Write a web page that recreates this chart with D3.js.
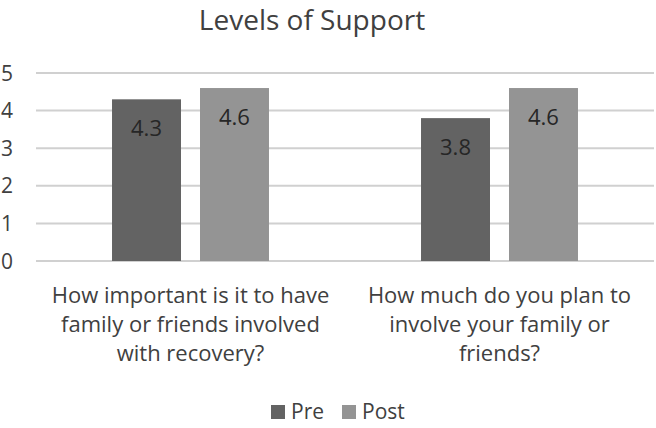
<!DOCTYPE html>
<html>
<head>
<meta charset="utf-8">
<script src="https://cdn.jsdelivr.net/npm/d3@7"></script>
<style>
  body { margin: 0; background: #fff; }
  svg { display: block; font-family: "Open Sans", sans-serif; }
</style>
</head>
<body>
<div id="chart"></div>
<script>
// Levels of Support - grouped bars, pre vs post
const categories = ["importance", "plan"];
const categoryLines = [
    ["How important is it to have", "family or friends involved", "with recovery?"],
    ["How much do you plan to", "involve your family or", "friends?"]
];
const seriesNames = ["Pre", "Post"];
const preValues = [4.3, 3.8];
const postValues = [4.6, 4.6];
const yTicks = [0, 1, 2, 3, 4, 5];

const colors = { Pre: "#636363", Post: "#949494" };
const textColor = "#404040";

const W = 656, H = 428;
const margin = { top: 73, right: 2, bottom: 167, left: 36 };
const width = W - margin.left - margin.right;
const height = H - margin.top - margin.bottom;

const svg = d3.select("#chart")
    .append("svg")
    .attr("width", W)
    .attr("height", H);

// title
svg.append("text")
    .attr("x", 312)
    .attr("y", 30)
    .attr("text-anchor", "middle")
    .attr("fill", textColor)
    .style("font-size", "28px")
    .text("Levels of Support");

const g = svg.append("g")
    .attr("transform", "translate(" + margin.left + "," + margin.top + ")");

const x0 = d3.scaleBand()
    .domain(categories)
    .range([0, width]);

const x1 = d3.scaleBand()
    .domain(seriesNames)
    .range([0, x0.bandwidth()])
    .paddingInner(0.216)
    .paddingOuter(0.864);

const y = d3.scaleLinear()
    .domain([0, 5])
    .range([height, 0]);

// gridlines
g.selectAll(".grid")
    .data(yTicks)
    .enter()
    .append("line")
    .attr("x1", 0)
    .attr("x2", width)
    .attr("y1", d => y(d))
    .attr("y2", d => y(d))
    .attr("stroke", "#d0d0d0")
    .attr("stroke-width", 2);

// y labels
svg.selectAll(".ylab")
    .data(yTicks)
    .enter()
    .append("text")
    .attr("x", 13)
    .attr("y", d => margin.top + y(d))
    .attr("dy", "0.36em")
    .attr("text-anchor", "end")
    .attr("fill", textColor)
    .style("font-size", "21px")
    .text(d => d);

const rows = categories.map((c, i) => ({
    cat: c,
    vals: [{ s: "Pre", v: preValues[i] }, { s: "Post", v: postValues[i] }]
}));

const groups = g.selectAll(".grp")
    .data(rows)
    .enter()
    .append("g")
    .attr("transform", d => "translate(" + x0(d.cat) + ",0)");

groups.selectAll("rect")
    .data(d => d.vals)
    .enter()
    .append("rect")
    .attr("x", d => x1(d.s))
    .attr("width", x1.bandwidth())
    .attr("y", d => y(d.v))
    .attr("height", d => height - y(d.v))
    .attr("fill", d => colors[d.s]);

groups.selectAll(".val")
    .data(d => d.vals)
    .enter()
    .append("text")
    .attr("x", d => x1(d.s) + x1.bandwidth() / 2)
    .attr("y", d => y(d.v) + 37)
    .attr("text-anchor", "middle")
    .attr("fill", "#262626")
    .style("font-size", "22px")
    .text(d => d.v.toFixed(1));

// category labels, wrapped like the original
categories.forEach((c, i) => {
    const t = g.append("text")
        .attr("text-anchor", "middle")
        .attr("fill", textColor)
        .style("font-size", "22px");
    categoryLines[i].forEach((line, j) => {
        t.append("tspan")
            .attr("x", x0(c) + x0.bandwidth() / 2)
            .attr("y", height + 42 + j * 29)
            .text(line);
    });
});

// legend
const legend = svg.append("g");
const legendX = [271, 342];
seriesNames.forEach((s, i) => {
    legend.append("rect")
        .attr("x", legendX[i])
        .attr("y", 405)
        .attr("width", 14)
        .attr("height", 14)
        .attr("fill", colors[s]);
    legend.append("text")
        .attr("x", legendX[i] + 20)
        .attr("y", 419)
        .attr("fill", textColor)
        .style("font-size", "21px")
        .text(s);
});
</script>
</body>
</html>
